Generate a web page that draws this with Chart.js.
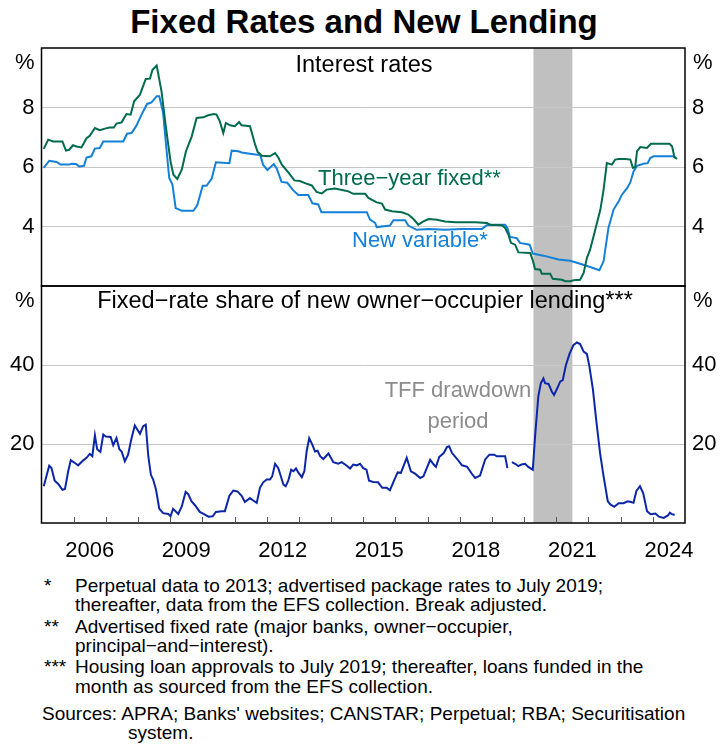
<!DOCTYPE html>
<html>
<head>
<meta charset="utf-8">
<title>Fixed Rates and New Lending</title>
<script src="https://cdn.jsdelivr.net/npm/chart.js@4.4.1/dist/chart.umd.min.js"></script>
<style>
    body { margin: 0; background: #fff; font-family: "Liberation Sans", Arial, sans-serif; }
    #page { position: relative; width: 728px; height: 749px; overflow: hidden; }
    #title { position: absolute; left: 0; top: 2px; width: 728px; text-align: center; font-weight: bold; font-size: 33px; line-height: 40px; }
    canvas { position: absolute; left: 0; }
    #chart_rates { top: 0; }
    #chart_share { top: 280px; }
    .note { position: absolute; font-size: 19px; line-height: 20px; white-space: nowrap; }
</style>
</head>
<body>
<div id="page">
    <div id="title">Fixed Rates and New Lending</div>
    <canvas id="chart_rates" width="728" height="290"></canvas>
    <canvas id="chart_share" width="728" height="290"></canvas>

    <div class="note" style="left:44px; top:576px;">*</div>
    <div class="note" style="left:75px; top:576px;">Perpetual data to 2013; advertised package rates to July 2019;</div>
    <div class="note" style="left:75px; top:595px;">thereafter, data from the EFS collection. Break adjusted.</div>
    <div class="note" style="left:44px; top:617px;">**</div>
    <div class="note" style="left:75px; top:617px;">Advertised fixed rate (major banks, owner−occupier,</div>
    <div class="note" style="left:75px; top:636px;">principal−and−interest).</div>
    <div class="note" style="left:44px; top:657px;">***</div>
    <div class="note" style="left:75px; top:657px;">Housing loan approvals to July 2019; thereafter, loans funded in the</div>
    <div class="note" style="left:75px; top:677px;">month as sourced from the EFS collection.</div>
    <div class="note" style="left:42px; top:704px;">Sources: APRA; Banks' websites; CANSTAR; Perpetual; RBA; Securitisation</div>
    <div class="note" style="left:128px; top:723px;">system.</div>
</div>

<script>
// three-year fixed rate (%)
const fixedYears = [2005.07, 2005.21, 2005.36, 2005.65, 2005.76, 2005.86, 2005.98, 2006.09, 2006.24, 2006.40,
    2006.50, 2006.66, 2006.81, 2006.97, 2007.12, 2007.25, 2007.33, 2007.49, 2007.64, 2007.77,
    2007.88, 2008.06, 2008.24, 2008.37, 2008.45, 2008.58, 2008.73, 2008.87, 2009.01, 2009.10,
    2009.22, 2009.36, 2009.49, 2009.67, 2009.82, 2010.03, 2010.18, 2010.36, 2010.44, 2010.54,
    2010.65, 2010.73, 2010.86, 2011.01, 2011.14, 2011.22, 2011.48, 2011.64, 2011.72, 2011.85,
    2012.10, 2012.26, 2012.36, 2012.47, 2012.67, 2012.86, 2013.03, 2013.21, 2013.40, 2013.55,
    2013.71, 2013.86, 2014.12, 2014.38, 2014.54, 2014.69, 2015.06, 2015.16, 2015.42, 2015.58,
    2015.68, 2015.89, 2016.20, 2016.40, 2016.56, 2016.71, 2016.87, 2017.03, 2017.29, 2017.54,
    2017.86, 2018.48, 2018.84, 2018.94, 2019.31, 2019.41, 2019.51, 2019.59, 2019.72, 2019.82,
    2020.19, 2020.27, 2020.34, 2020.50, 2020.55, 2020.81, 2020.89, 2021.17, 2021.28, 2021.43,
    2021.54, 2021.74, 2021.85, 2021.95, 2022.05, 2022.21, 2022.37, 2022.47, 2022.57, 2022.73,
    2022.83, 2022.94, 2023.14, 2023.30, 2023.38, 2023.45, 2023.51, 2023.61, 2023.82, 2023.94,
    2024.52, 2024.60, 2024.67, 2024.75];
const fixedRates = [6.61, 6.92, 6.86, 6.86, 6.55, 6.58, 6.73, 6.69, 6.66, 6.97,
    7.05, 7.31, 7.24, 7.29, 7.33, 7.33, 7.46, 7.50, 7.78, 7.76,
    8.21, 8.43, 8.96, 8.97, 9.27, 9.41, 8.54, 7.31, 6.19, 5.74,
    5.60, 5.91, 6.53, 7.03, 7.65, 7.67, 7.74, 7.78, 7.76, 7.54,
    7.14, 7.48, 7.40, 7.37, 7.51, 7.40, 7.37, 6.75, 6.50, 6.38,
    6.36, 6.47, 6.32, 6.08, 5.82, 5.55, 5.53, 5.45, 5.38, 5.16,
    5.11, 5.24, 5.28, 5.22, 5.18, 5.10, 5.10, 4.96, 4.81, 4.77,
    4.57, 4.51, 4.48, 4.40, 4.25, 4.06, 4.17, 4.25, 4.23, 4.17,
    4.14, 4.14, 4.12, 4.06, 4.04, 3.95, 3.73, 3.45, 3.39, 3.13,
    3.11, 2.86, 2.57, 2.55, 2.41, 2.41, 2.24, 2.21, 2.16, 2.16,
    2.19, 2.21, 2.44, 2.94, 3.22, 3.89, 4.57, 5.24, 6.13, 6.08,
    6.25, 6.27, 6.27, 6.25, 5.97, 5.99, 6.53, 6.67, 6.64, 6.78,
    6.78, 6.69, 6.34, 6.27];

// new variable rate (%)
const variableYears = [2005.07, 2005.24, 2005.47, 2005.59, 2005.86, 2005.93, 2006.07, 2006.17, 2006.32, 2006.40,
    2006.55, 2006.66, 2006.81, 2006.92, 2007.54, 2007.66, 2007.80, 2007.95, 2008.11, 2008.28,
    2008.42, 2008.58, 2008.66, 2008.78, 2008.87, 2008.97, 2009.07, 2009.17, 2009.36, 2009.72,
    2009.84, 2010.01, 2010.13, 2010.29, 2010.42, 2010.84, 2010.91, 2011.12, 2011.22, 2011.53,
    2011.80, 2011.89, 2012.02, 2012.22, 2012.31, 2012.46, 2012.64, 2012.81, 2012.98, 2013.29,
    2013.42, 2013.60, 2013.70, 2014.02, 2015.11, 2015.21, 2015.37, 2015.42, 2015.83, 2015.94,
    2016.30, 2016.40, 2016.66, 2017.03, 2017.54, 2018.06, 2018.69, 2018.84, 2018.94, 2019.41,
    2019.48, 2019.56, 2019.77, 2019.87, 2020.17, 2020.27, 2020.60, 2021.07, 2021.43, 2021.74,
    2022.05, 2022.34, 2022.47, 2022.62, 2022.78, 2022.94, 2023.04, 2023.20, 2023.30, 2023.40,
    2023.51, 2023.71, 2023.84, 2023.92, 2024.02, 2024.64, 2024.70];
const variableRates = [5.97, 6.21, 6.17, 6.08, 6.08, 6.11, 6.10, 6.02, 6.04, 6.32,
    6.36, 6.62, 6.64, 6.86, 6.86, 7.12, 7.14, 7.39, 7.76, 8.12,
    8.17, 8.38, 8.38, 7.82, 6.75, 5.63, 5.41, 4.62, 4.53, 4.53,
    4.71, 5.37, 5.37, 5.61, 6.16, 6.13, 6.55, 6.53, 6.49, 6.44,
    6.40, 6.07, 5.90, 6.10, 5.95, 5.50, 5.47, 5.23, 5.06, 5.06,
    4.78, 4.74, 4.48, 4.48, 4.48, 4.23, 4.12, 3.98, 4.03, 4.21,
    4.21, 4.03, 3.89, 3.92, 3.89, 3.92, 3.92, 4.04, 4.06, 4.06,
    3.95, 3.65, 3.61, 3.45, 3.39, 3.09, 3.02, 2.89, 2.85, 2.75,
    2.64, 2.53, 2.83, 3.95, 4.57, 4.85, 5.07, 5.29, 5.48, 5.85,
    6.04, 6.11, 6.13, 6.30, 6.36, 6.36, 6.30];

// fixed-rate share of new owner-occupier lending (%), null marks the series break
const shareYears = [2005.07, 2005.24, 2005.31, 2005.41, 2005.52, 2005.65, 2005.73, 2005.83, 2005.91, 2006.07,
    2006.14, 2006.29, 2006.40, 2006.50, 2006.58, 2006.66, 2006.73, 2006.83, 2006.92, 2007.00,
    2007.15, 2007.23, 2007.33, 2007.42, 2007.49, 2007.59, 2007.69, 2007.80, 2007.90, 2008.06,
    2008.16, 2008.24, 2008.32, 2008.40, 2008.47, 2008.56, 2008.66, 2008.78, 2008.94, 2009.01,
    2009.09, 2009.25, 2009.36, 2009.48, 2009.56, 2009.66, 2009.77, 2009.92, 2010.08, 2010.19,
    2010.32, 2010.42, 2010.60, 2010.70, 2010.84, 2010.96, 2011.09, 2011.22, 2011.32, 2011.48,
    2011.58, 2011.69, 2011.79, 2011.89, 2012.00, 2012.10, 2012.17, 2012.26, 2012.36, 2012.52,
    2012.59, 2012.67, 2012.76, 2012.83, 2012.91, 2012.98, 2013.09, 2013.17, 2013.24, 2013.32,
    2013.42, 2013.50, 2013.58, 2013.66, 2013.76, 2013.92, 2014.07, 2014.22, 2014.33, 2014.49,
    2014.59, 2014.69, 2014.80, 2014.90, 2015.00, 2015.10, 2015.18, 2015.31, 2015.46, 2015.59,
    2015.73, 2015.83, 2015.97, 2016.07, 2016.17, 2016.35, 2016.48, 2016.61, 2016.77, 2016.87,
    2017.08, 2017.19, 2017.26, 2017.36, 2017.50, 2017.60, 2017.67, 2017.76, 2017.92, 2018.07,
    2018.23, 2018.38, 2018.48, 2018.63, 2018.79, 2018.92, 2019.07, 2019.15, 2019.41, 2019.48,
    2019.55, 2019.62, 2019.72, 2019.82, 2019.92, 2020.03, 2020.13, 2020.27, 2020.34, 2020.44,
    2020.52, 2020.60, 2020.65, 2020.76, 2020.86, 2020.93, 2021.03, 2021.12, 2021.20, 2021.30,
    2021.41, 2021.53, 2021.64, 2021.74, 2021.85, 2021.95, 2022.03, 2022.14, 2022.24, 2022.36,
    2022.47, 2022.60, 2022.68, 2022.80, 2022.94, 2023.09, 2023.22, 2023.32, 2023.40, 2023.49,
    2023.60, 2023.70, 2023.82, 2023.93, 2024.08, 2024.19, 2024.34, 2024.47, 2024.53, 2024.60,
    2024.68];
const shareValues = [9.3, 14.5, 13.9, 10.7, 9.9, 8.4, 8.6, 13.1, 15.9, 15.0,
    14.6, 15.8, 16.5, 17.5, 16.9, 22.2, 18.7, 18.0, 22.4, 21.9,
    21.8, 19.7, 21.5, 18.7, 18.1, 15.6, 17.3, 21.5, 24.7, 22.6,
    24.5, 24.9, 16.9, 12.2, 11.0, 8.4, 3.6, 2.5, 2.3, 1.7,
    3.6, 2.3, 4.2, 7.9, 7.3, 5.5, 4.5, 2.8, 2.1, 1.6,
    1.7, 2.8, 3.0, 3.0, 6.9, 8.2, 8.0, 6.9, 5.3, 6.3,
    5.7, 5.1, 8.9, 10.3, 11.0, 11.0, 11.8, 15.0, 13.9, 9.7,
    9.3, 10.7, 13.5, 13.1, 13.8, 12.8, 11.6, 13.1, 18.1, 21.5,
    19.8, 18.1, 18.3, 16.9, 16.2, 17.6, 15.4, 15.0, 15.4, 14.5,
    13.8, 14.8, 14.6, 15.0, 13.9, 13.5, 10.7, 10.4, 10.3, 8.9,
    8.9, 8.3, 11.0, 12.8, 12.7, 16.5, 13.1, 12.5, 11.4, 11.8,
    16.0, 14.8, 14.2, 16.7, 17.7, 19.2, 19.4, 17.7, 16.2, 14.6,
    14.2, 12.4, 11.4, 12.0, 16.1, 17.3, 17.3, 16.9, 16.9, 13.9,
    null, 15.4, 15.0, 14.4, 14.8, 15.0, 14.2, 13.5, 21.9, 32.0,
    35.4, 36.6, 35.4, 35.2, 33.3, 32.4, 34.1, 35.8, 36.2, 40.0,
    42.8, 45.0, 45.7, 45.3, 43.4, 42.8, 39.6, 33.7, 26.1, 17.7,
    11.8, 5.5, 4.7, 4.1, 5.0, 5.0, 5.5, 5.3, 5.1, 8.1,
    9.3, 7.6, 3.0, 2.2, 2.4, 1.6, 1.3, 1.9, 2.6, 2.2,
    2.1];

const rateTicks = [4, 6, 8];
const shareTicks = [20, 40];
const labelYears = [2006, 2009, 2012, 2015, 2018, 2021, 2024];
const tffStart = 2020.29;
const tffEnd = 2021.5;

const fontFamily = '"Liberation Sans", Arial, sans-serif';
Chart.defaults.font.family = fontFamily;
Chart.defaults.color = '#000';

document.addEventListener('DOMContentLoaded', function(){
    createRates();
    createShare();
});

function toPoints(xs, ys) {
    return xs.map((x, i) => ({ x: x, y: ys[i] }));
}

function yAxis(position, min, max, values, grid) {
    return {
        type: 'linear',
        position: position,
        min: min,
        max: max,
        afterBuildTicks: scale => { scale.ticks = values.map(v => ({ value: v })); },
        afterFit: scale => {
            scale.width = position == 'left' ? 41.5 : 43;
            // labels never sit on the panel edges, so no extra room is needed
            scale.paddingTop = 0;
            scale.paddingBottom = 0;
        },
        ticks: { padding: 7, font: { size: 22 } },
        border: { display: false },
        grid: { display: grid, color: '#c8c8c8', lineWidth: 1, drawTicks: false }
    };
}

// shading, frame and the texts inside each panel
const panelPlugin = {
    id: 'panel',
    beforeDraw(chart) {
        const { ctx, chartArea: a, scales: { x } } = chart;
        const x0 = x.getPixelForValue(tffStart);
        const x1 = x.getPixelForValue(tffEnd);
        ctx.save();
        ctx.fillStyle = '#c0c0c0';
        ctx.fillRect(x0, a.top, x1 - x0, a.bottom - a.top);
        ctx.restore();
    },
    afterDraw(chart, args, opts) {
        const { ctx, chartArea: a, scales: { x } } = chart;
        ctx.save();
        ctx.strokeStyle = '#000';
        ctx.lineWidth = 1.5;
        ctx.strokeRect(a.left, a.top, a.right - a.left, a.bottom - a.top);

        if (opts.yearTicks) {
            ctx.lineWidth = 1;
            ctx.strokeStyle = '#555';
            for (let year = 2006; year <= 2024; year++) {
                const px = Math.round(x.getPixelForValue(year)) + 0.5;
                ctx.beginPath();
                ctx.moveTo(px, a.bottom);
                ctx.lineTo(px, a.bottom - 6);
                ctx.stroke();
            }
        }

        ctx.font = `22px ${fontFamily}`;
        ctx.textBaseline = 'alphabetic';
        ctx.fillStyle = '#000';
        ctx.textAlign = 'right';
        ctx.fillText('%', a.left - 7, opts.pctY);
        ctx.textAlign = 'left';
        ctx.fillText('%', a.right + 8, opts.pctY);

        opts.texts.forEach(t => {
            ctx.font = `${t.size || 22}px ${fontFamily}`;
            ctx.fillStyle = t.color;
            ctx.textAlign = t.align;
            ctx.fillText(t.text, t.x, t.y);
        });
        ctx.restore();
    }
};

function createRates() {
    new Chart(document.querySelector('#chart_rates'), {
        type: 'line',
        data: {
            datasets: [
                {
                    label: 'Three−year fixed',
                    data: toPoints(fixedYears, fixedRates),
                    borderColor: '#006b4f',
                    borderWidth: 2,
                    pointRadius: 0,
                    yAxisID: 'y'
                },
                {
                    label: 'New variable',
                    data: toPoints(variableYears, variableRates),
                    borderColor: '#1580d8',
                    borderWidth: 2,
                    pointRadius: 0,
                    yAxisID: 'y'
                }
            ]
        },
        options: {
            responsive: false,
            animation: false,
            layout: { padding: { top: 48, bottom: 4 } },
            scales: {
                x: { type: 'linear', min: 2005, max: 2025, display: false },
                y: yAxis('left', 2, 10, rateTicks, true),
                y2: yAxis('right', 2, 10, rateTicks, false)
            },
            plugins: {
                legend: { display: false },
                tooltip: { enabled: false },
                panel: {
                    pctY: 69,
                    texts: [
                        { text: 'Interest rates', x: 364, y: 72, size: 23.5, color: '#000', align: 'center' },
                        { text: 'Three−year fixed**', x: 318, y: 185, color: '#006b4f', align: 'left' },
                        { text: 'New variable*', x: 352, y: 247, color: '#1580d8', align: 'left' }
                    ]
                }
            }
        },
        plugins: [panelPlugin]
    });
}

function createShare() {
    new Chart(document.querySelector('#chart_share'), {
        type: 'line',
        data: {
            datasets: [
                {
                    label: 'Fixed-rate share',
                    data: toPoints(shareYears, shareValues),
                    borderColor: '#0d26a8',
                    borderWidth: 2,
                    pointRadius: 0,
                    spanGaps: false,
                    yAxisID: 'y'
                }
            ]
        },
        options: {
            responsive: false,
            animation: false,
            layout: { padding: { top: 6 } },
            scales: {
                x: {
                    type: 'linear',
                    min: 2005,
                    max: 2025,
                    afterBuildTicks: scale => { scale.ticks = labelYears.map(v => ({ value: v + 0.5 })); },
                    afterFit: scale => { scale.height = 47; },
                    ticks: {
                        padding: 15,
                        maxRotation: 0,
                        autoSkip: false,
                        font: { size: 22 },
                        callback: (value, i) => String(labelYears[i])
                    },
                    border: { display: false },
                    grid: { drawOnChartArea: false, drawTicks: false }
                },
                y: yAxis('left', 0, 60, shareTicks, true),
                y2: yAxis('right', 0, 60, shareTicks, false)
            },
            plugins: {
                legend: { display: false },
                tooltip: { enabled: false },
                panel: {
                    pctY: 27,
                    yearTicks: true,
                    texts: [
                        { text: 'Fixed−rate share of new owner−occupier lending***', x: 365, y: 28, size: 23.5, color: '#000', align: 'center' },
                        { text: 'TFF drawdown', x: 458, y: 117, color: '#8c8c8c', align: 'center' },
                        { text: 'period', x: 458, y: 148, color: '#8c8c8c', align: 'center' }
                    ]
                }
            }
        },
        plugins: [panelPlugin]
    });
}
</script>
</body>
</html>
